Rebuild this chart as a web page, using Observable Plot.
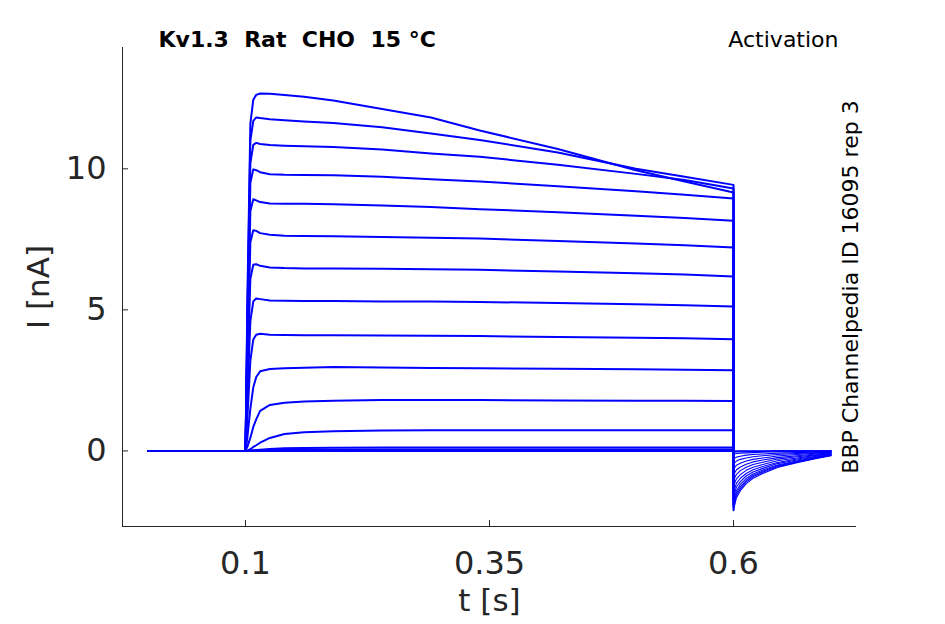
<!DOCTYPE html>
<html><head><meta charset="utf-8">
<script src="https://cdn.jsdelivr.net/npm/d3@7"></script>
<script src="https://cdn.jsdelivr.net/npm/@observablehq/plot@0.6"></script>
<style>html,body{margin:0;padding:0;background:#fff;overflow:hidden}</style>
</head><body><div id="chart"></div>
<script>
// time samples (s): pulse 0..0.6, then tail 0.6..0.7
const times = [0, 0.1, 0.102, 0.105, 0.108, 0.111, 0.115, 0.125, 0.14, 0.16, 0.19, 0.24, 0.29, 0.34, 0.42, 0.5, 0.55, 0.6,
               0.6, 0.603, 0.607, 0.613, 0.62, 0.63, 0.645, 0.665, 0.685, 0.7];
// current (nA) per sweep
const sweep01 = [0,0,5.5,11.6,12.45,12.62,12.67,12.66,12.62,12.55,12.42,12.12,11.82,11.36,10.70,9.95,9.55,9.16, -2.10,-1.66,-1.41,-1.16,-0.97,-0.80,-0.59,-0.42,-0.27,-0.17];
const sweep02 = [0,0,5.0,11.0,11.7,11.82,11.8,11.76,11.72,11.68,11.62,11.47,11.25,11.02,10.58,10.0,9.72,9.43, -2.00,-1.58,-1.34,-1.10,-0.92,-0.76,-0.56,-0.40,-0.26,-0.16];
const sweep03 = [0,0,4.5,10.2,10.85,10.92,10.88,10.84,10.82,10.8,10.77,10.68,10.54,10.43,10.14,9.82,9.6,9.3, -1.90,-1.50,-1.27,-1.05,-0.87,-0.72,-0.53,-0.38,-0.25,-0.15];
const sweep04 = [0,0,4.2,9.5,9.98,9.95,9.88,9.81,9.79,9.78,9.77,9.72,9.63,9.55,9.38,9.2,9.08,8.95, -1.78,-1.41,-1.19,-0.98,-0.82,-0.68,-0.50,-0.36,-0.23,-0.14];
const sweep05 = [0,0,3.8,8.5,8.92,8.88,8.82,8.77,8.76,8.76,8.74,8.7,8.65,8.57,8.46,8.34,8.26,8.16, -1.62,-1.28,-1.09,-0.89,-0.75,-0.62,-0.45,-0.32,-0.21,-0.13];
const sweep06 = [0,0,3.3,7.4,7.82,7.8,7.72,7.66,7.63,7.62,7.61,7.58,7.56,7.53,7.44,7.35,7.29,7.21, -1.45,-1.15,-0.97,-0.80,-0.67,-0.55,-0.41,-0.29,-0.19,-0.12];
const sweep07 = [0,0,2.7,6.1,6.6,6.62,6.56,6.5,6.48,6.47,6.47,6.46,6.44,6.42,6.36,6.3,6.25,6.18, -1.25,-0.99,-0.84,-0.69,-0.58,-0.48,-0.35,-0.25,-0.16,-0.10];
const sweep08 = [0,0,2.0,4.6,5.3,5.4,5.38,5.33,5.32,5.31,5.31,5.3,5.3,5.28,5.24,5.2,5.16,5.12, -1.05,-0.83,-0.70,-0.58,-0.48,-0.40,-0.29,-0.21,-0.14,-0.08];
const sweep09 = [0,0,1.2,3.2,3.95,4.12,4.15,4.12,4.11,4.1,4.1,4.09,4.08,4.07,4.04,4.01,3.99,3.96, -0.85,-0.67,-0.57,-0.47,-0.39,-0.32,-0.24,-0.17,-0.11,-0.07];
const sweep10 = [0,0,0.5,1.5,2.25,2.62,2.82,2.9,2.93,2.95,2.97,2.96,2.94,2.93,2.91,2.89,2.88,2.86, -0.65,-0.51,-0.44,-0.36,-0.30,-0.25,-0.18,-0.13,-0.08,-0.05];
const sweep11 = [0,0,0.15,0.47,0.85,1.12,1.42,1.63,1.71,1.75,1.78,1.8,1.8,1.8,1.79,1.78,1.78,1.77, -0.45,-0.36,-0.30,-0.25,-0.21,-0.17,-0.13,-0.09,-0.06,-0.04];
const sweep12 = [0,0,0.01,0.06,0.14,0.2,0.29,0.46,0.6,0.66,0.7,0.72,0.73,0.73,0.73,0.73,0.73,0.73, -0.28,-0.22,-0.19,-0.15,-0.13,-0.11,-0.08,-0.06,-0.04,-0.02];
const sweep13 = [0,0,0,0.01,0.02,0.03,0.04,0.07,0.09,0.1,0.11,0.12,0.12,0.12,0.12,0.12,0.12,0.12, -0.12,-0.09,-0.08,-0.07,-0.06,-0.05,-0.03,-0.02,-0.02,-0.01];
const sweep14 = [0,0,0,0,0.01,0.01,0.01,0.02,0.03,0.04,0.04,0.05,0.05,0.05,0.05,0.05,0.05,0.05, -0.05,-0.04,-0.03,-0.03,-0.02,-0.02,-0.01,-0.01,-0.01,0];
const sweep15 = [0,0,0,0,0,0,0,0,0.01,0.01,0.01,0.02,0.02,0.02,0.02,0.02,0.02,0.02, -0.02,-0.02,-0.01,-0.01,-0.01,-0.01,0,0,0,0];
const sweep16 = [0,0,0,0,0,0,0,0,0,0,0,0,0,0,0,0,0,0, 0,0,0,0,0,0,0,0,0,0];
const sweeps = [sweep01,sweep02,sweep03,sweep04,sweep05,sweep06,sweep07,sweep08,sweep09,sweep10,sweep11,sweep12,sweep13,sweep14,sweep15,sweep16];

const xTicks = [0.1, 0.35, 0.6];
const yTicks = [0, 5, 10];
const xDomain = [-0.026, 0.726];
const yDomain = [-2.68, 14.3];
const titleText = "Kv1.3\u00a0\u00a0Rat\u00a0\u00a0CHO\u00a0\u00a015\u00a0°C";
const protocolText = "Activation";
const sourceText = "BBP Channelpedia ID 16095 rep 3";
const xLabel = "t [s]";
const yLabel = "I [nA]";

const pulseEnd = 18; // index of first tail sample
const pulseRows = [], tailRows = [];
sweeps.forEach((vals, k) => vals.forEach((v, i) => {
  const r = {sweep: k, t: times[i], I: v};
  if (i <= pulseEnd) pulseRows.push(r);
  if (i >= pulseEnd) tailRows.push(r);
}));

const W = 945, H = 624, mL = 122, mR = 89, mT = 47, mB = 98;
const plotW = W - mL - mR, plotH = H - mT - mB;
const axisColor = "#262626";

const chart = Plot.plot({
  width: W, height: H,
  marginLeft: mL, marginRight: mR, marginTop: mT, marginBottom: mB,
  style: {fontFamily: "DejaVu Sans", background: "#fff", overflow: "visible"},
  x: {domain: xDomain},
  y: {domain: yDomain},
  marks: [
    Plot.line(pulseRows, {x: "t", y: "I", z: "sweep", stroke: "#0000ff", strokeWidth: 2, strokeLinejoin: "round"}),
    Plot.line(tailRows, {x: "t", y: "I", z: "sweep", stroke: "#0000ff", strokeWidth: 1.1, strokeLinejoin: "round"}),
    // axis lines (left and bottom only)
    Plot.ruleX([xDomain[0]], {stroke: axisColor, strokeWidth: 1}),
    Plot.ruleY([yDomain[0]], {stroke: axisColor, strokeWidth: 1}),
    // inward ticks
    Plot.ruleX(xTicks, {stroke: axisColor, strokeWidth: 1, insetTop: plotH - 6}),
    Plot.ruleY(yTicks, {stroke: axisColor, strokeWidth: 1, insetRight: plotW - 6}),
    Plot.axisX({ticks: xTicks, tickSize: 0, tickPadding: 25, fontSize: 32, color: axisColor, tickFormat: d => String(d), label: null}),
    Plot.axisY({ticks: yTicks, tickSize: 0, tickPadding: 16, fontSize: 32, color: axisColor, tickFormat: d => String(d), label: null}),
    Plot.text([xLabel], {frameAnchor: "bottom", dy: 75, lineAnchor: "middle", textAnchor: "middle", fontSize: 31, fill: axisColor, text: d => d}),
    Plot.text([yLabel], {frameAnchor: "left", dx: -83, rotate: -90, lineAnchor: "middle", textAnchor: "middle", fontSize: 31, fill: axisColor, text: d => d}),
    Plot.text([titleText], {frameAnchor: "top-left", dx: 36, dy: -8, textAnchor: "start", lineAnchor: "middle", fontSize: 22, fontWeight: "bold", fill: "#000", text: d => d}),
    Plot.text([protocolText], {frameAnchor: "top-right", dx: -18, dy: -8, textAnchor: "end", lineAnchor: "middle", fontSize: 22, fill: "#000", text: d => d}),
    Plot.text([sourceText], {frameAnchor: "right", dx: -6, dy: 0, rotate: -90, textAnchor: "middle", lineAnchor: "middle", fontSize: 22, fill: "#000", text: d => d})
  ]
});
document.getElementById("chart").appendChild(chart);
</script>
</body></html>
